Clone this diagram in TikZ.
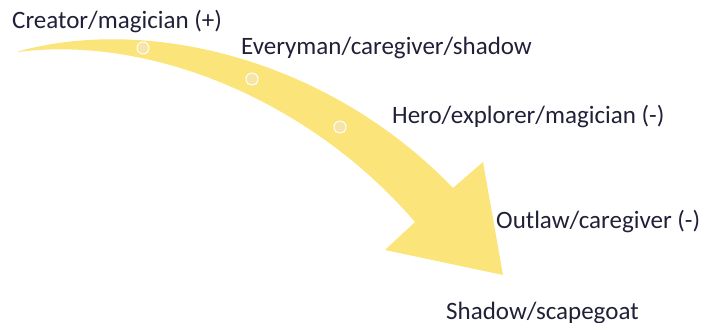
\documentclass[tikz,border=0pt]{standalone}
\usepackage{fontspec}
\setmainfont{Carlito}
\definecolor{arrowyellow}{RGB}{251,229,122}
\definecolor{dotfill}{RGB}{246,228,168}
\definecolor{labeltext}{RGB}{32,32,56}
\begin{document}
\begin{tikzpicture}[x=1pt,y=-1pt,
  lbl/.style={anchor=base west,inner sep=0pt,text=labeltext,font=\fontsize{25}{29}\selectfont},
  stagedot/.style={circle,fill=dotfill,draw=white,line width=0.9pt,minimum size=12pt,inner sep=0pt}]
\useasboundingbox (0,0) rectangle (701,323);
% arrow body
\fill[arrowyellow] (18,51.5)
  .. controls (150,15) and (330,60) .. (453,188)
  -- (483,162) -- (503,275) -- (385,250) -- (415,222)
  .. controls (310,100) and (150,35) .. (18,52) -- cycle;
% dots
\node[stagedot] (d1) at (143,48) {};
\node[stagedot] (d2) at (252,79) {};
\node[stagedot] (d3) at (340,127) {};
% labels
\node[lbl] (l1) at (12,28.5) {Creator/magician (+)};
\node[lbl] (l2) at (241,54.5) {Everyman/caregiver/shadow};
\node[lbl] (l3) at (392,124) {Hero/explorer/magician (-)};
\node[lbl] (l4) at (496,228) {Outlaw/caregiver (-)};
\node[lbl] (l5) at (446,319) {Shadow/scapegoat};
\end{tikzpicture}
\end{document}
